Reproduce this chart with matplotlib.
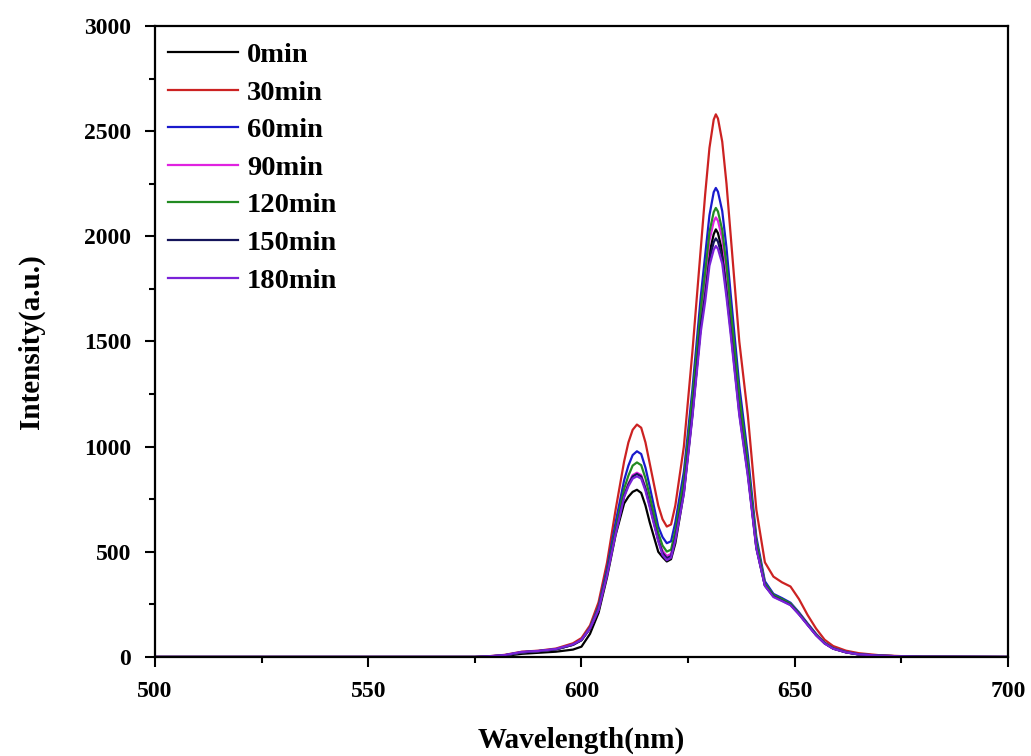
import numpy as np
import matplotlib.pyplot as plt
from matplotlib.ticker import MultipleLocator

# PL emission spectra, intensity vs wavelength for each irradiation time
wl = [500, 575, 578, 582, 586, 590, 594, 598,
      600, 602, 604, 606, 608,
      610, 611, 612, 613, 614, 615, 616,
      618, 619, 620, 621, 622,
      624, 626, 628, 629, 630, 631, 631.5, 632, 633, 634, 635,
      637, 639, 641, 643, 645, 647, 649, 651, 653, 655, 657, 659,
      662, 665, 670, 675, 680, 700]

I_0 = [0, 0, 1, 5, 15, 20, 25, 35,
       49, 110, 210, 380, 580,
       730, 762, 785, 795, 780, 720, 640,
       500, 475, 454, 465, 540,
       780, 1150, 1580, 1780, 1920, 2010, 2033, 2015, 1930, 1770, 1580,
       1180, 880, 520, 340, 290, 270, 250, 205, 155, 105, 65, 40,
       22, 12, 6, 3, 1, 0]
I_30 = [0, 0, 3, 10, 25, 30, 40, 65,
        90, 150, 260, 450, 700,
        930, 1020, 1080, 1105, 1090, 1020, 920,
        720, 655, 620, 630, 720,
        1000, 1450, 1950, 2200, 2420, 2555, 2580, 2560, 2450, 2250, 2000,
        1500, 1150, 700, 450, 382, 355, 335, 275, 200, 135, 82, 52,
        30, 18, 8, 4, 1, 0]
I_60 = [0, 0, 2, 8, 22, 28, 36, 58,
        80, 140, 240, 420, 640,
        840, 910, 960, 978, 965, 900, 810,
        620, 570, 541, 550, 640,
        880, 1270, 1720, 1910, 2100, 2210, 2230, 2212, 2120, 1945, 1720,
        1290, 960, 570, 360, 300, 280, 258, 212, 160, 110, 68, 42,
        24, 13, 6, 3, 1, 0]
I_90 = [0, 0, 2, 8, 22, 28, 36, 58,
        80, 135, 225, 395, 590,
        770, 825, 865, 876, 865, 805, 725,
        560, 505, 480, 490, 575,
        810, 1190, 1620, 1790, 1980, 2070, 2090, 2073, 1990, 1825, 1620,
        1210, 900, 540, 345, 290, 270, 250, 205, 155, 105, 66, 41,
        23, 12, 6, 3, 1, 0]
I_120 = [0, 0, 2, 8, 22, 28, 36, 58,
         80, 138, 232, 405, 610,
         800, 862, 910, 925, 912, 850, 765,
         590, 530, 501, 510, 600,
         840, 1230, 1660, 1830, 2020, 2115, 2135, 2118, 2030, 1862, 1650,
         1240, 920, 550, 350, 295, 275, 254, 208, 157, 107, 67, 41,
         23, 12, 6, 3, 1, 0]
I_150 = [0, 0, 2, 8, 22, 28, 36, 58,
         80, 135, 225, 395, 590,
         765, 820, 858, 870, 858, 800, 720,
         555, 495, 470, 480, 565,
         790, 1160, 1580, 1720, 1890, 1972, 1990, 1975, 1900, 1735, 1550,
         1160, 870, 520, 340, 288, 268, 248, 204, 154, 104, 65, 40,
         22, 12, 6, 3, 1, 0]
I_180 = [0, 0, 3, 9, 24, 29, 38, 60,
         82, 136, 225, 390, 585,
         760, 812, 848, 859, 848, 790, 712,
         550, 485, 460, 472, 555,
         775, 1140, 1550, 1690, 1860, 1936, 1954, 1940, 1870, 1710, 1530,
         1150, 860, 515, 338, 285, 266, 246, 202, 152, 103, 64, 39,
         22, 12, 6, 3, 1, 0]

labels = ["0min", "30min", "60min", "90min", "120min", "150min", "180min"]
colors = ["#000000", "#cc2222", "#1a1acc", "#e022e0", "#228b22", "#14145a", "#7a22d8"]
series = [I_0, I_30, I_60, I_90, I_120, I_150, I_180]

plt.rcParams['font.family'] = ['Liberation Serif', 'DejaVu Serif']
plt.rcParams['font.weight'] = 'bold'

fig = plt.figure(figsize=(10.31, 7.56), dpi=100)
ax = fig.add_axes([0.1503, 0.131, 0.8274, 0.8346])

for y, c, lab in zip(series, colors, labels):
    ax.plot(wl, y, c=c, lw=1.6, label=lab)

ax.set_xlim(500, 700)
ax.set_ylim(0, 3000)
ax.xaxis.set_major_locator(MultipleLocator(50))
ax.xaxis.set_minor_locator(MultipleLocator(25))
ax.yaxis.set_major_locator(MultipleLocator(500))
ax.yaxis.set_minor_locator(MultipleLocator(250))
ax.tick_params(which='major', direction='out', length=7, width=1.5, labelsize=17, pad=10)
ax.tick_params(which='minor', direction='out', length=4, width=1.5)
ax.tick_params(top=False, right=False)
for s in ax.spines.values():
    s.set_linewidth(1.6)

ax.set_xlabel("Wavelength(nm)", fontsize=21, fontweight='bold')
ax.set_ylabel("Intensity(a.u.)", fontsize=21, fontweight='bold')
ax.xaxis.set_label_coords(0.5, -0.11)
ax.yaxis.set_label_coords(-0.129, 0.5)

ax.legend(loc='upper left', bbox_to_anchor=(0.002, 0.9927), borderaxespad=0,
          frameon=False, handlelength=2.46, handletextpad=0.32, labelspacing=0.41,
          prop={'weight': 'bold', 'size': 20.5})

fig.savefig("out.png", dpi=100)
